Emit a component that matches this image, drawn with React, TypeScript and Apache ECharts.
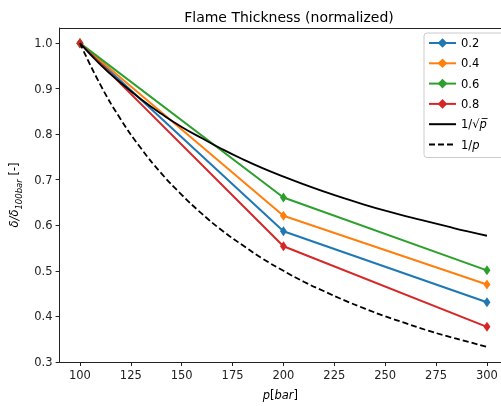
import React, { useEffect, useRef } from "react";
import * as echarts from "echarts";

const pressures = [100, 200, 300];
const phi = ["0.2", "0.4", "0.6", "0.8"];
const s02 = [1.0, 0.587, 0.431];
const s04 = [1.0, 0.621, 0.47];
const s06 = [1.0, 0.661, 0.501];
const s08 = [1.0, 0.554, 0.377];
const seriesValues = [s02, s04, s06, s08];
const colors = ["#1f77b4", "#ff7f0e", "#2ca02c", "#d62728"];

const refP = [100, 110, 120, 130, 140, 150, 160, 170, 180, 190, 200, 210, 220, 230, 240, 250, 260, 270, 280, 290, 300];
const invSqrt = [1.0, 0.953, 0.913, 0.877, 0.845, 0.816, 0.791, 0.767, 0.745, 0.725, 0.707, 0.69, 0.674, 0.659, 0.645, 0.632, 0.62, 0.609, 0.598, 0.587, 0.577];
const inv = [1.0, 0.909, 0.833, 0.769, 0.714, 0.667, 0.625, 0.588, 0.556, 0.526, 0.5, 0.476, 0.455, 0.435, 0.417, 0.4, 0.385, 0.37, 0.357, 0.345, 0.333];

const xTicks = [100, 125, 150, 175, 200, 225, 250, 275, 300];
const yTicks = [0.3, 0.4, 0.5, 0.6, 0.7, 0.8, 0.9, 1.0];

const FONT = "DejaVu Sans";

export default function App() {
  const ref = useRef<HTMLDivElement>(null);
  useEffect(() => {
    if (!ref.current) return;
    const chart = echarts.init(ref.current, null, { renderer: "svg" });
    const series: any[] = phi.map((name, i) => ({
      name,
      type: "line",
      data: pressures.map((p, j) => [p, seriesValues[i][j]]),
      symbol: "diamond",
      symbolSize: [7, 10],
      showAllSymbol: true,
      lineStyle: { color: colors[i], width: 2 },
      itemStyle: { color: colors[i] },
      z: 2,
    }));
    series.push({
      name: "sqrt",
      type: "line",
      data: refP.map((p, j) => [p, invSqrt[j]]),
      symbol: "none",
      smooth: true,
      lineStyle: { color: "#000", width: 1.8 },
      itemStyle: { color: "#000" },
      z: 3,
    });
    series.push({
      name: "inv",
      type: "line",
      data: refP.map((p, j) => [p, inv[j]]),
      symbol: "none",
      smooth: true,
      lineStyle: { color: "#000", width: 1.8, type: [6, 3] },
      itemStyle: { color: "#000" },
      z: 3,
    });

    chart.setOption({
      animation: false,
      textStyle: { fontFamily: FONT },
      title: {
        text: "Flame Thickness (normalized)",
        left: 284,
        textAlign: "center",
        top: 5,
        textStyle: { fontFamily: FONT, fontSize: 14, fontWeight: "normal", color: "#000" },
      },
      grid: {
        left: 59.6,
        right: 0,
        top: 28,
        bottom: 43,
        show: false,
      },
      legend: {
        orient: "vertical",
        left: 424,
        top: 33,
        padding: [4, 30, 7, 4],
        itemWidth: 27,
        itemHeight: 12,
        itemGap: 8.3,
        borderColor: "#ccc",
        borderWidth: 1,
        borderRadius: 3,
        backgroundColor: "rgba(255,255,255,0.8)",
        lineStyle: { width: 2 },
        data: [
          ...phi,
          { name: "sqrt", itemStyle: { opacity: 0 } },
          { name: "inv", itemStyle: { opacity: 0 } },
        ],
        formatter: (name: string) => {
          if (name === "sqrt") return "1/√{i|p̅}";
          if (name === "inv") return "1/{i|p}";
          return name;
        },
        textStyle: {
          fontFamily: FONT,
          fontSize: 11.5,
          color: "#000",
          rich: {
            i: { fontFamily: FONT, fontSize: 11.5, fontStyle: "italic", color: "#000" },
          },
        },
      },
      xAxis: [
        {
          type: "value",
          min: 90,
          max: 306.9,
          name: "{i|p}[{i|bar}]",
          nameLocation: "middle",
          nameGap: 27,
          nameTextStyle: {
            fontFamily: FONT,
            fontSize: 11.5,
            color: "#000",
            rich: { i: { fontFamily: FONT, fontSize: 11.5, fontStyle: "italic", color: "#000" } },
          },
          axisLine: { lineStyle: { color: "#222", width: 1 } },
          axisTick: { show: true, length: 4, lineStyle: { color: "#222" }, customValues: xTicks },
          axisLabel: {
            customValues: xTicks,
            fontFamily: FONT,
            fontSize: 11.5,
            color: "#222",
            margin: 7,
          },
          splitLine: { show: false },
        },
        {
          type: "value",
          position: "top",
          min: 90,
          max: 306.9,
          axisLine: { show: true, lineStyle: { color: "#222", width: 1 } },
          axisTick: { show: false },
          axisLabel: { show: false },
          splitLine: { show: false },
        },
      ],
      yAxis: {
        type: "value",
        min: 0.2997,
        max: 1.0333,
        name: "{n|δ/δ}{s|100bar}{u| [-]}",
        nameLocation: "middle",
        nameRotate: 90,
        nameGap: 37,
        nameTextStyle: {
          fontFamily: FONT,
          fontSize: 11.5,
          color: "#000",
          rich: {
            n: { fontFamily: FONT, fontSize: 11.5, fontStyle: "italic", color: "#000", verticalAlign: "bottom" },
            u: { fontFamily: FONT, fontSize: 11.5, color: "#000", verticalAlign: "bottom" },
            s: { fontFamily: FONT, fontSize: 8.5, fontStyle: "italic", color: "#000", verticalAlign: "bottom", padding: [0, 0, -3, 0] },
          },
        },
        axisLine: { show: true, lineStyle: { color: "#222", width: 1 } },
        axisTick: { show: true, length: 4, lineStyle: { color: "#222" }, customValues: yTicks },
        axisLabel: {
          customValues: yTicks,
          formatter: (v: number) => v.toFixed(1),
          fontFamily: FONT,
          fontSize: 11.5,
          color: "#222",
          margin: 7,
        },
        splitLine: { show: false },
      },
      series,
    });
    return () => chart.dispose();
  }, []);
  return <div ref={ref} style={{ position: "fixed", left: 0, top: 0, width: 501, height: 406 }} />;
}
